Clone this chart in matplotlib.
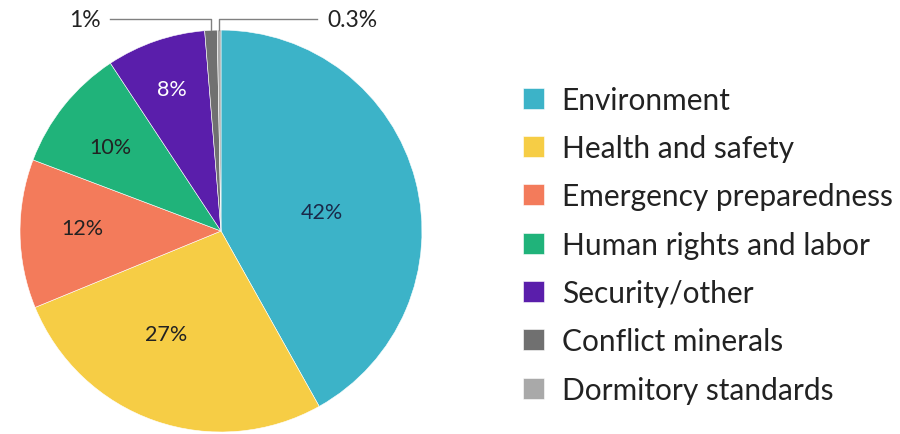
import matplotlib.pyplot as plt
import numpy as np

plt.rcParams['font.family'] = ['Lato', 'DejaVu Sans']

# Data
categories = ["Environment", "Health and safety", "Emergency preparedness",
              "Human rights and labor", "Security/other", "Conflict minerals",
              "Dormitory standards"]
values = [42, 27, 12, 10, 8, 1, 0.3]
pct_labels = ["42%", "27%", "12%", "10%", "8%", "1%", "0.3%"]
colors = ["#3cb3c8", "#f6cd45", "#f37b5b", "#20b37a", "#5a1eab", "#707070", "#a9a9a9"]

fig = plt.figure(figsize=(9, 4.35), dpi=100)
ax = fig.add_axes([0.0222, 0.0046, 0.4467, 0.924])

wedges, _ = ax.pie(values, colors=colors, startangle=90, counterclock=False,
                   wedgeprops=dict(linewidth=0.4, edgecolor="white"))
ax.set_xlim(-1, 1)
ax.set_ylim(-1, 1)
ax.set_aspect("equal")
ax.axis("off")

# inside labels: (radius, angle shift, text colour)
label_pos = [(0.51, -4, "#1a2a4a"), (0.58, -9, "#222222"), (0.69, -2, "#222222"),
             (0.69, 1.5, "#222222"), (0.75, 0, "white")]
for w, txt, (r, shift, tc) in zip(wedges[:5], pct_labels[:5], label_pos):
    ang = np.deg2rad((w.theta1 + w.theta2) / 2 + shift)
    ax.text(r * np.cos(ang), r * np.sin(ang), txt, ha="center", va="center",
            fontsize=15.5, color=tc)

# small slices with leader lines
yline = 1.055
for w, txt, xend, side in [(wedges[5], pct_labels[5], -0.55, "left"),
                           (wedges[6], pct_labels[6], 0.48, "right")]:
    ang = np.deg2rad((w.theta1 + w.theta2) / 2)
    x0, y0 = np.cos(ang), np.sin(ang)
    ax.plot([x0, x0, xend], [y0, yline, yline], color="#808080", lw=1, clip_on=False)
    if side == "left":
        ax.text(xend - 0.05, yline, txt, ha="right", va="center", fontsize=16.5,
                color="#222222", clip_on=False)
    else:
        ax.text(xend + 0.05, yline, txt, ha="left", va="center", fontsize=16.5,
                color="#222222", clip_on=False)

fig.legend(wedges, categories, loc="upper left", bbox_to_anchor=(0.565, 0.835),
           frameon=False, fontsize=21.5, handlelength=0.7, handleheight=0.7,
           handletextpad=0.58, labelspacing=0.68, borderpad=0, labelcolor="#222222")

fig.savefig("out.png", dpi=100, facecolor="white")
